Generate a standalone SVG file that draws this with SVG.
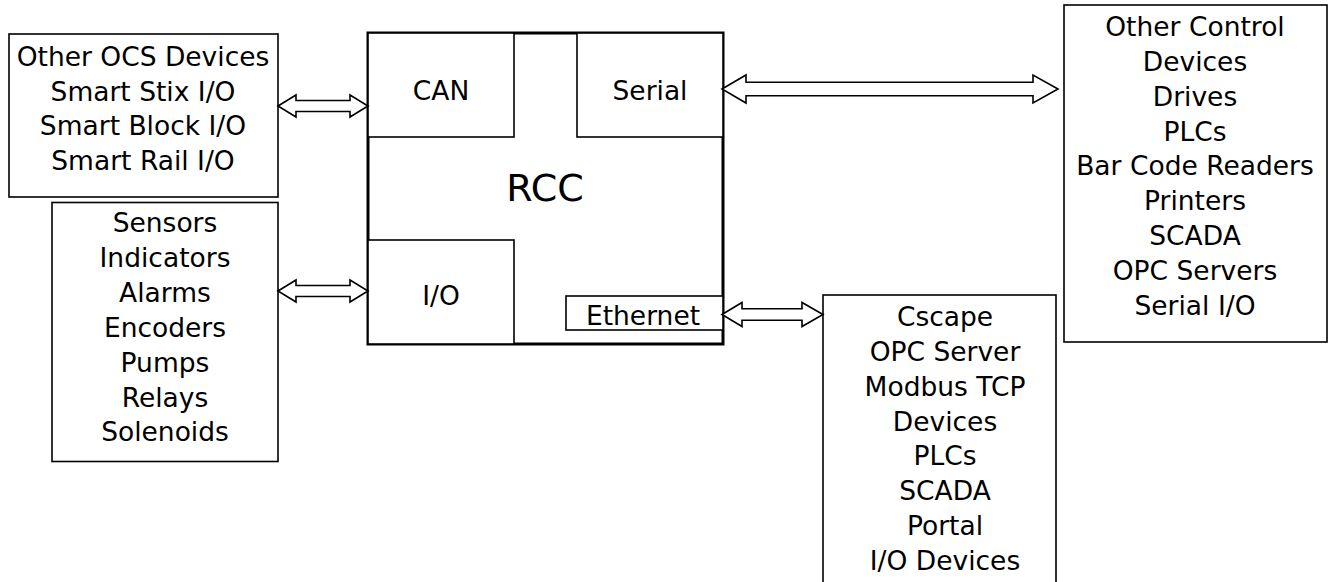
<svg xmlns="http://www.w3.org/2000/svg" width="1330" height="582" viewBox="0 0 1330 582">
<style>
.box{fill:#fff;stroke:#000;stroke-width:1.6}
.main{fill:#fff;stroke:#000;stroke-width:3}
.arr{fill:#fff;stroke:#000;stroke-width:1.6;stroke-linejoin:miter}
text{font-family:"DejaVu Sans",sans-serif;font-size:26.5px;fill:#000;text-anchor:middle}
.big{font-size:38px}
</style>
<rect width="1330" height="582" fill="#fff"/>
<g id="ocs">
<rect class="box" x="9" y="34" width="269" height="163"/>
<text x="143" y="66">Other OCS Devices</text>
<text x="143" y="100.5">Smart Stix I/O</text>
<text x="143" y="135">Smart Block I/O</text>
<text x="143" y="170">Smart Rail I/O</text>
</g>
<g id="sensors">
<rect class="box" x="52" y="202.5" width="226" height="259"/>
<text x="165" y="232">Sensors</text>
<text x="165" y="267">Indicators</text>
<text x="165" y="302">Alarms</text>
<text x="165" y="337">Encoders</text>
<text x="165" y="371.5">Pumps</text>
<text x="165" y="406.5">Relays</text>
<text x="165" y="441">Solenoids</text>
</g>
<g id="rcc">
<rect class="main" x="368" y="33" width="355" height="311"/>
<text class="big" x="545" y="201">RCC</text>
</g>
<g id="can">
<rect class="box" x="368" y="33" width="146" height="104"/>
<text x="441" y="100">CAN</text>
</g>
<g id="serial">
<rect class="box" x="577" y="33" width="146" height="104"/>
<text x="650" y="100">Serial</text>
</g>
<g id="io">
<rect class="box" x="368" y="240" width="146" height="104"/>
<text x="441" y="305">I/O</text>
</g>
<g id="ethernet">
<rect class="box" x="566" y="296" width="157" height="34"/>
<text x="643" y="325">Ethernet</text>
</g>
<g id="other-control">
<rect class="box" x="1064" y="5" width="263" height="337"/>
<text x="1195" y="36">Other Control</text>
<text x="1195" y="71">Devices</text>
<text x="1195" y="106">Drives</text>
<text x="1195" y="140.5">PLCs</text>
<text x="1195" y="175">Bar Code Readers</text>
<text x="1195" y="210">Printers</text>
<text x="1195" y="245">SCADA</text>
<text x="1195" y="280">OPC Servers</text>
<text x="1195" y="315">Serial I/O</text>
</g>
<g id="cscape">
<rect class="box" x="823" y="295" width="233" height="300"/>
<text x="945" y="326">Cscape</text>
<text x="945" y="361">OPC Server</text>
<text x="945" y="396">Modbus TCP</text>
<text x="945" y="430.5">Devices</text>
<text x="945" y="465">PLCs</text>
<text x="945" y="500">SCADA</text>
<text x="945" y="535">Portal</text>
<text x="945" y="570">I/O Devices</text>
</g>
<g id="connectors">
<polygon class="arr" points="278,106 296,95 296,100.5 350,100.5 350,95 368,106 350,117 350,111.5 296,111.5 296,117"/>
<polygon class="arr" points="278,291 296,280 296,285.5 350,285.5 350,280 368,291 350,302 350,296.5 296,296.5 296,302"/>
<polygon class="arr" points="722,89 746,75 746,82.3 1033,82.3 1033,75 1058,89 1033,103 1033,95.7 746,95.7 746,103"/>
<polygon class="arr" points="722,314.5 742,302.5 742,308.8 802,308.8 802,302.5 823,314.5 802,326.5 802,320.2 742,320.2 742,326.5"/>
</g>
</svg>
